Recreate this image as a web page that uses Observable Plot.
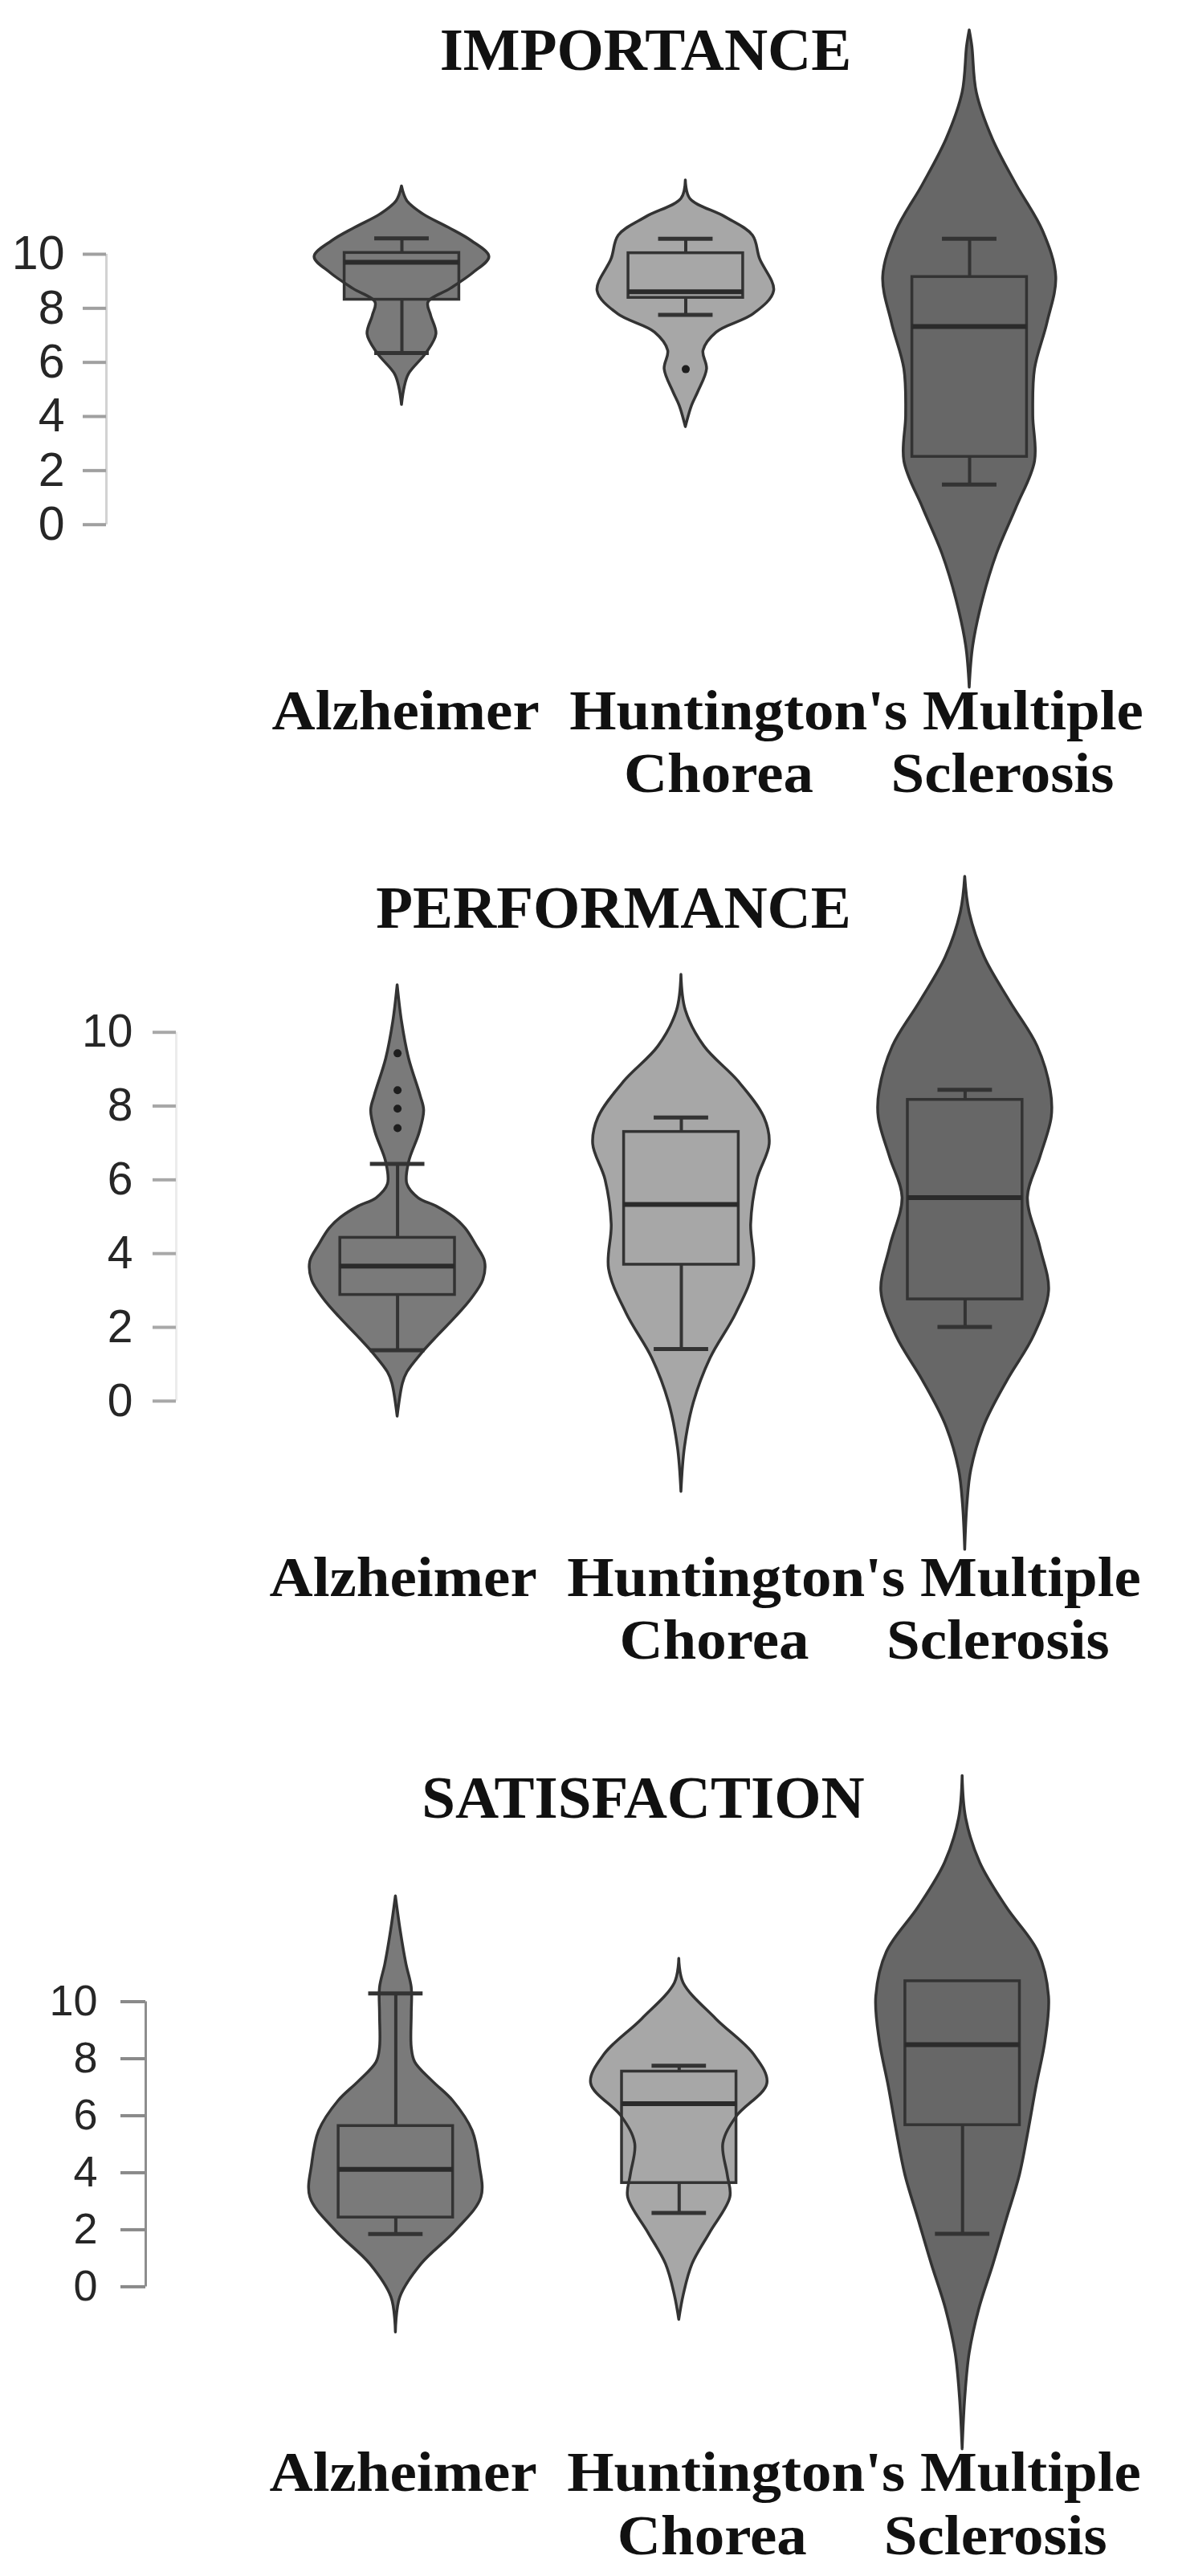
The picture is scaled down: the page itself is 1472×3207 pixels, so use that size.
<!DOCTYPE html>
<html><head><meta charset="utf-8">
<script src="https://cdn.jsdelivr.net/npm/d3@7"></script>
<script src="https://cdn.jsdelivr.net/npm/@observablehq/plot@0.6"></script>
<style>
html,body{margin:0;padding:0;background:#fff;}
#page{position:relative;width:1472px;height:3207px;overflow:hidden;background:#fff;}
#page svg{display:block;}
.title{position:absolute;width:1000px;text-align:center;white-space:nowrap;font-family:"Liberation Serif","Times New Roman",serif;font-weight:bold;font-size:75px;line-height:75px;color:#111;}
</style></head>
<body><div id="page"></div>
<script>
// ---------- data ----------
const categories = ["Alzheimer", "Huntington's Chorea", "Multiple Sclerosis"];
const labelLine1 = ["Alzheimer", "Huntington's", "Multiple"];
const labelLine2 = ["", "Chorea", "Sclerosis"];
const panelTitles = ["IMPORTANCE", "PERFORMANCE", "SATISFACTION"];
const yTicks = [0, 2, 4, 6, 8, 10];

// violin outlines: [score, relative half-width (1 = widest)]
const importanceAlzheimer = [[12.51,0],[11.97,0.06],[11.48,0.24],[10.98,0.53],[10.49,0.79],[9.9,0.99],[9.31,0.81],[8.72,0.55],[8.22,0.30],[7.73,0.33],[7.04,0.39],[6.35,0.28],[5.57,0.08],[5.07,0.03],[4.43,0]];
const importanceHuntington = [[12.73,0],[12.05,0.05],[11.37,0.45],[10.69,0.76],[9.83,0.84],[8.64,1.0],[7.79,0.77],[7.11,0.35],[6.43,0.2],[5.75,0.24],[4.9,0.14],[4.4,0.07],[3.61,0]];
const importanceSclerosis = [[18.28,0],[17.68,0.03],[15.98,0.08],[14.27,0.26],[12.57,0.53],[10.86,0.83],[9.16,0.98],[7.45,0.88],[5.75,0.74],[4.04,0.72],[2.34,0.74],[0.63,0.53],[-1.07,0.31],[-2.78,0.15],[-4.48,0.04],[-6.02,0]];

const performanceAlzheimer = [[11.28,0],[10.28,0.05],[9.28,0.13],[8.28,0.26],[7.88,0.30],[7.28,0.25],[6.48,0.13],[5.88,0.11],[5.5,0.24],[5.28,0.44],[4.98,0.64],[4.68,0.77],[4.23,0.89],[3.78,0.99],[3.28,0.97],[2.78,0.84],[2.28,0.66],[1.78,0.46],[1.28,0.27],[0.78,0.11],[0.48,0.06],[-0.42,0]];
const performanceHuntington = [[11.56,0],[10.59,0.05],[9.62,0.26],[8.66,0.65],[7.69,0.94],[6.97,1.0],[6.0,0.86],[4.79,0.79],[3.58,0.82],[2.37,0.62],[1.16,0.33],[-0.05,0.14],[-1.25,0.04],[-2.46,0]];
const performanceSclerosis = [[14.22,0],[13.25,0.05],[12.04,0.22],[10.83,0.51],[9.62,0.82],[8.42,0.97],[7.69,0.98],[6.6,0.85],[5.52,0.71],[4.18,0.85],[2.98,0.95],[1.77,0.78],[0.56,0.48],[-0.65,0.22],[-1.86,0.07],[-2.8,0.025],[-4.03,0]];

const satisfactionAlzheimer = [[13.7,0],[12.48,0.055],[11.31,0.12],[10.49,0.18],[9.55,0.18],[8.39,0.18],[7.87,0.22],[7.2,0.42],[6.52,0.65],[5.47,0.87],[4.3,0.95],[3.13,0.97],[1.96,0.68],[0.79,0.29],[-0.37,0.05],[-1.6,0]];
const satisfactionHuntington = [[11.51,0],[10.65,0.05],[9.39,0.42],[8.14,0.85],[7.13,1.0],[5.96,0.65],[5.02,0.5],[3.92,0.55],[3.14,0.58],[1.89,0.35],[0.79,0.15],[-0.3,0.05],[-1.16,0]];
const satisfactionSclerosis = [[17.92,0],[16.43,0.04],[14.87,0.2],[13.31,0.5],[11.74,0.86],[10.18,0.98],[8.61,0.94],[7.05,0.84],[5.49,0.75],[3.92,0.65],[2.36,0.5],[0.79,0.35],[-0.77,0.19],[-2.33,0.08],[-3.89,0.03],[-5.7,0]];

// box plots: [lower whisker, Q1, median, Q3, upper whisker]
const importanceBoxes = [[6.35,8.32,9.70,10.05,10.59],[7.76,8.39,8.61,10.04,10.57],[1.48,2.51,7.33,9.16,10.57]];
const performanceBoxes = [[1.38,2.88,3.66,4.43,6.43],[1.41,3.70,5.33,7.30,7.69],[2.01,2.76,5.52,8.17,8.44]];
const satisfactionBoxes = [[1.85,2.43,4.12,5.64,10.29],[2.59,3.64,6.42,7.55,7.75],[1.86,5.67,8.49,10.72,10.72]];

const importanceOutliers = [[], [5.75], []];
const performanceOutliers = [[9.43, 8.43, 7.93, 7.40], [], []];
const satisfactionOutliers = [[], [], []];

// ---------- styling / layout ----------
const fills = ["#7a7a7a", "#a7a7a7", "#676767"];
const outline = "#333333";
const VIOLIN_HALF = 0.311, BOX_HALF = 0.202, CAP_HALF = 0.096;
const serif = "Liberation Serif, Times New Roman, serif";
const sans = "Liberation Sans, Arial, Helvetica, sans-serif";
const LABEL_FONT = 70, LABEL_STRETCH = 75 / 70;

const layouts = [
  {top: 0, height: 1070, marginTop: 316, marginBottom: 417.3, marginLeft: 132, p1: 500, p3: 1207,
   tickSize: 29, tickPadding: 23, tickFont: 59, tickStroke: "#a0a0a0", lineStroke: "#d2d2d2",
   dy1: 255, dy2: 333, line1Start: 338, titleCenter: 804, titleBaseline: 87},
  {top: 1070, height: 1070, marginTop: 214.7, marginBottom: 396.2, marginLeft: 219, p1: 494.6, p3: 1201.4,
   tickSize: 29, tickPadding: 25, tickFont: 57, tickStroke: "#a8a8a8", lineStroke: "#ececec",
   dy1: 243, dy2: 321, line1Start: 335, titleCenter: 764, titleBaseline: 1155},
  {top: 2140, height: 1067, marginTop: 351.5, marginBottom: 360.6, marginLeft: 181, p1: 492.4, p3: 1198.2,
   tickSize: 31, tickPadding: 29, tickFont: 54, tickStroke: "#8a8a8a", lineStroke: "#8e8e8e",
   dy1: 254, dy2: 333, line1Start: 335, titleCenter: 801, titleBaseline: 2263}
];

const panels = [
  {title: panelTitles[0], profiles: [importanceAlzheimer, importanceHuntington, importanceSclerosis], boxes: importanceBoxes, outliers: importanceOutliers},
  {title: panelTitles[1], profiles: [performanceAlzheimer, performanceHuntington, performanceSclerosis], boxes: performanceBoxes, outliers: performanceOutliers},
  {title: panelTitles[2], profiles: [satisfactionAlzheimer, satisfactionHuntington, satisfactionSclerosis], boxes: satisfactionBoxes, outliers: satisfactionOutliers}
];

function buildPanel(P, L) {
  const marks = [];
  const axisPos = 1 + (L.marginLeft - L.p1) * 2 / (L.p3 - L.p1);
  marks.push(Plot.ruleX([axisPos], {x: d => d, y1: () => 0, y2: () => 10, stroke: L.lineStroke, strokeWidth: 3}));
  marks.push(Plot.axisY({anchor: "left", ticks: yTicks, tickSize: L.tickSize, tickPadding: L.tickPadding,
    fontSize: L.tickFont, fontFamily: sans, stroke: L.tickStroke, strokeWidth: 4, fill: "#262626", label: null}));

  categories.forEach((cat, i) => {
    const pos = i + 1;
    const prof = P.profiles[i].map(([v, w]) => ({v, w}));
    const [lo, q1, med, q3, hi] = P.boxes[i];
    const box = [{lo, q1, med, q3, hi}];
    const fill = fills[i];
    const areaOpts = {y: "v", x1: d => pos - d.w * VIOLIN_HALF, x2: d => pos + d.w * VIOLIN_HALF, curve: "catmull-rom"};
    marks.push(Plot.areaX(prof, {...areaOpts, fill}));
    marks.push(Plot.rect(box, {x1: () => pos - BOX_HALF, x2: () => pos + BOX_HALF, y1: "q1", y2: "q3",
      fill, stroke: outline, strokeWidth: 3.5}));
    marks.push(Plot.areaX(prof, {...areaOpts, fill: "none", stroke: outline, strokeWidth: 3.5, strokeLinejoin: "round"}));
    if (hi > q3) {
      marks.push(Plot.ruleX(box, {x: () => pos, y1: "q3", y2: "hi", stroke: outline, strokeWidth: 4}));
      marks.push(Plot.ruleY(box, {y: "hi", x1: () => pos - CAP_HALF, x2: () => pos + CAP_HALF, stroke: outline, strokeWidth: 5}));
    }
    if (lo < q1) {
      marks.push(Plot.ruleX(box, {x: () => pos, y1: "lo", y2: "q1", stroke: outline, strokeWidth: 4}));
      marks.push(Plot.ruleY(box, {y: "lo", x1: () => pos - CAP_HALF, x2: () => pos + CAP_HALF, stroke: outline, strokeWidth: 5}));
    }
    marks.push(Plot.ruleY(box, {y: "med", x1: () => pos - BOX_HALF, x2: () => pos + BOX_HALF, stroke: "#2b2b2b", strokeWidth: 6}));
    if (P.outliers[i].length) {
      marks.push(Plot.dot(P.outliers[i], {x: () => pos, y: d => d, r: 5, fill: "#1e1e1e", stroke: "none"}));
    }
  });

  const row1 = labelLine1[0] + "\u00a0 " + labelLine1[1] + " " + labelLine1[2];
  marks.push(Plot.text([row1], {x: () => 1, text: d => d, frameAnchor: "bottom", lineAnchor: "bottom",
    textAnchor: "start", dx: L.line1Start - L.p1, dy: L.dy1, fontFamily: serif, fontWeight: "bold", fontSize: LABEL_FONT, fill: "#111"}));
  const row2 = labelLine2.map((t, i) => ({t, c: i + 1})).filter(d => d.t);
  marks.push(Plot.text(row2, {x: "c", text: "t", frameAnchor: "bottom", lineAnchor: "bottom",
    textAnchor: "middle", dx: 41, dy: L.dy2, fontFamily: serif, fontWeight: "bold", fontSize: LABEL_FONT, fill: "#111"}));

  return Plot.plot({
    width: 1472, height: L.height,
    marginTop: L.marginTop, marginBottom: L.marginBottom, marginLeft: L.marginLeft, marginRight: 0,
    x: {type: "linear", domain: [1, 3], range: [L.p1, L.p3], axis: null},
    y: {type: "linear", domain: [0, 10]},
    style: {background: "white", overflow: "visible"},
    marks
  });
}

const page = document.getElementById("page");
panels.forEach((P, k) => {
  const L = layouts[k];
  const holder = document.createElement("div");
  holder.style.position = "absolute";
  holder.style.left = "0px";
  holder.style.top = L.top + "px";
  const svg = buildPanel(P, L);
  holder.appendChild(svg);
  page.appendChild(holder);
  // widen the category labels to the width of the original lettering
  svg.querySelectorAll("text").forEach(el => {
    if (getComputedStyle(el).fontSize === LABEL_FONT + "px") {
      const len = el.getComputedTextLength();
      el.setAttribute("textLength", (len * LABEL_STRETCH).toFixed(1));
      el.setAttribute("lengthAdjust", "spacingAndGlyphs");
    }
  });
  const t = document.createElement("div");
  t.className = "title";
  t.textContent = P.title;
  t.style.left = (L.titleCenter - 500) + "px";
  t.style.top = (L.titleBaseline - 63) + "px";
  page.appendChild(t);
});
</script>
</body></html>
